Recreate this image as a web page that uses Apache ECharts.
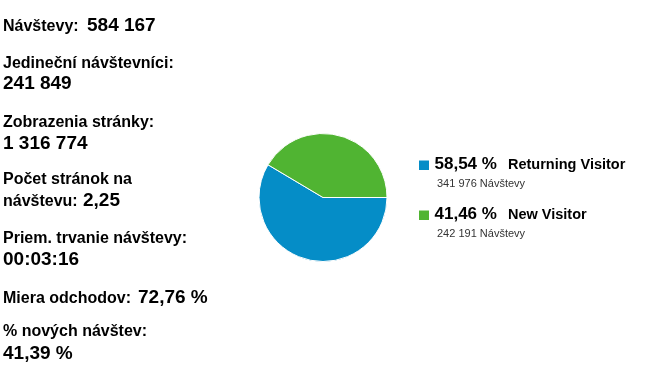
<!DOCTYPE html>
<html>
<head>
<meta charset="utf-8">
<script src="https://cdn.jsdelivr.net/npm/echarts@6/dist/echarts.min.js"></script>
<style>
html,body{margin:0;padding:0;background:#fff;}
#chart{width:663px;height:373px;}
</style>
</head>
<body>
<div id="chart"></div>
<script>
// Summary metrics (label, value)
const statLabels = ["Návštevy:", "Jedineční návštevníci:", "Zobrazenia stránky:", "Počet stránok na\nnávštevu:", "Priem. trvanie návštevy:", "Miera odchodov:", "% nových návštev:"];
const statValues = ["584 167", "241 849", "1 316 774", "2,25", "00:03:16", "72,76 %", "41,39 %"];

// Pie data
const categories = ["Returning Visitor", "New Visitor"];
const visits = [341976, 242191];
const percentLabels = ["58,54 %", "41,46 %"];
const countLabels = ["341 976 Návštevy", "242 191 Návštevy"];
const colors = ["#058dc7", "#50b432"];

const FONT = '"Liberation Sans", Arial, sans-serif';

const chart = echarts.init(document.getElementById('chart'), null, {renderer: 'canvas'});

// text placed by baseline: 'middle' alignment => baseline ~ y + 0.3465*size
function txt(str, x, baseline, size, weight, fill) {
  return {
    type: 'text', x: x, y: baseline - 0.3465 * size, silent: true,
    style: {
      text: str, fontSize: size, fontWeight: weight || 'normal', fontFamily: FONT,
      fill: fill || '#000', verticalAlign: 'middle', align: 'left'
    }
  };
}

// layout of left stats
const statLayout = [
  {ly: 32.5, vy: 32.5, vx: 87},
  {ly: 69.5, vy: 90.5, vx: 3},
  {ly: 128, vy: 150, vx: 3},
  {ly: 185, vy: 207.5, vx: 83},
  {ly: 244, vy: 266, vx: 3},
  {ly: 304, vy: 304, vx: 138},
  {ly: 337.5, vy: 360, vx: 3}
];

const graphics = [];
statLabels.forEach((lab, i) => {
  const L = statLayout[i];
  const lines = lab.split('\n');
  graphics.push(txt(lines[0], 3, L.ly, 16, 'bold'));
  if (lines.length === 2) graphics.push(txt(lines[1], 3, L.vy, 16, 'bold'));
  graphics.push(txt(statValues[i], L.vx, L.vy, 19, 'bold'));
});

// Legend
categories.forEach((name, i) => {
  const by = 170.5 + i * 50;
  graphics.push({type: 'rect', shape: {x: 419, y: by - 10, width: 10, height: 9.5}, style: {fill: colors[i]}, silent: true});
  graphics.push(txt(percentLabels[i], 434.5, by, 17, 'bold'));
  graphics.push(txt(name, 508, by, 14.5, 'bold'));
  graphics.push(txt(countLabels[i], 437, by + 17.5, 11, 'normal', '#333'));
});

chart.setOption({
  animation: false,
  backgroundColor: '#fff',
  color: colors,
  series: [{
    type: 'pie',
    center: [323, 197.5],
    radius: 64,
    startAngle: 0,
    clockwise: true,
    label: {show: false},
    labelLine: {show: false},
    emphasis: {disabled: true},
    itemStyle: {borderColor: '#fff', borderWidth: 1},
    data: categories.map((c, i) => ({name: c, value: visits[i]}))
  }],
  graphic: graphics
});
</script>
</body>
</html>
